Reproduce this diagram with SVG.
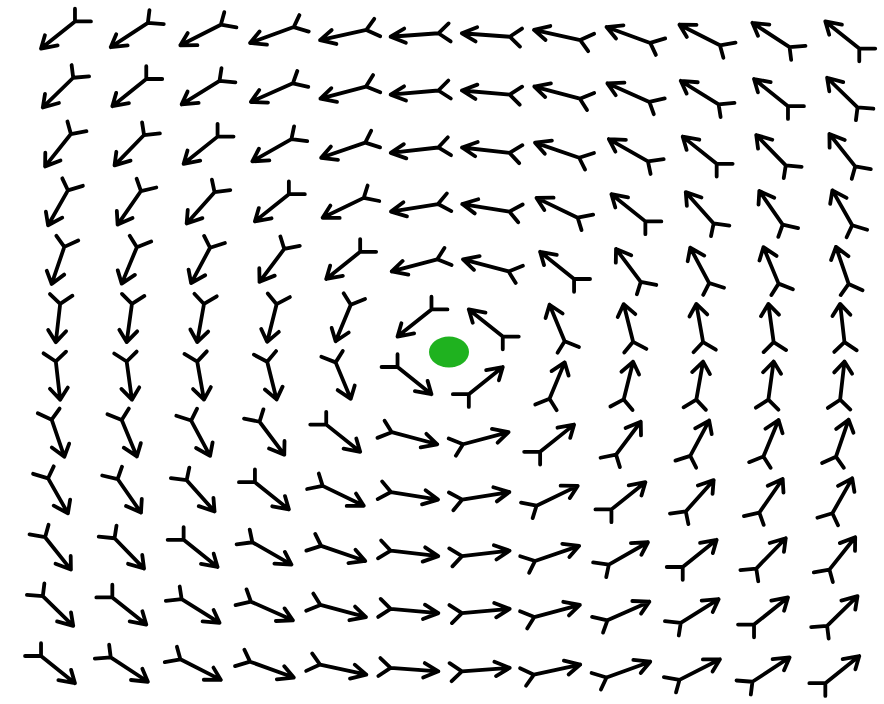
<svg xmlns="http://www.w3.org/2000/svg" xmlns:xlink="http://www.w3.org/1999/xlink" width="884" height="704" viewBox="0 0 884 704">
<style>
.a{fill:none;stroke:#000;stroke-width:3.8;stroke-linecap:round;stroke-linejoin:round;vector-effect:non-scaling-stroke}
</style>
<defs>
<path id="a" class="a" d="M-24,0H24M9.5,-9L24,0L9.5,9M-35.3,-11.3L-24,0L-35.3,11.3"/>
</defs>
<rect width="884" height="704" fill="#fff"/>
<g id="field" transform="scale(1,0.8)">
<g id="row0" transform="translate(0 43.75)">
<use href="#a" transform="translate(58 0) rotate(135)"/>
<use href="#a" transform="translate(129.3 0) rotate(140.7)"/>
<use href="#a" transform="translate(200.6 0) rotate(147.5)"/>
<use href="#a" transform="translate(271.9 0) rotate(155.6)"/>
<use href="#a" transform="translate(343.2 0) rotate(164.7)"/>
<use href="#a" transform="translate(414.5 0) rotate(174.8)"/>
<use href="#a" transform="translate(485.8 0) rotate(-174.8)"/>
<use href="#a" transform="translate(557.1 0) rotate(-164.7)"/>
<use href="#a" transform="translate(628.4 0) rotate(-155.6)"/>
<use href="#a" transform="translate(699.7 0) rotate(-147.5)"/>
<use href="#a" transform="translate(771 0) rotate(-140.7)"/>
<use href="#a" transform="translate(842.3 0) rotate(-135)"/>
</g>
<g id="row1" transform="translate(0 115.75)">
<use href="#a" transform="translate(58 0) rotate(129.3)"/>
<use href="#a" transform="translate(129.3 0) rotate(135)"/>
<use href="#a" transform="translate(200.6 0) rotate(142.1)"/>
<use href="#a" transform="translate(271.9 0) rotate(151)"/>
<use href="#a" transform="translate(343.2 0) rotate(161.6)"/>
<use href="#a" transform="translate(414.5 0) rotate(173.7)"/>
<use href="#a" transform="translate(485.8 0) rotate(-173.7)"/>
<use href="#a" transform="translate(557.1 0) rotate(-161.6)"/>
<use href="#a" transform="translate(628.4 0) rotate(-151)"/>
<use href="#a" transform="translate(699.7 0) rotate(-142.1)"/>
<use href="#a" transform="translate(771 0) rotate(-135)"/>
<use href="#a" transform="translate(842.3 0) rotate(-129.3)"/>
</g>
<g id="row2" transform="translate(0 187.75)">
<use href="#a" transform="translate(58 0) rotate(122.5)"/>
<use href="#a" transform="translate(129.3 0) rotate(127.9)"/>
<use href="#a" transform="translate(200.6 0) rotate(135)"/>
<use href="#a" transform="translate(271.9 0) rotate(144.5)"/>
<use href="#a" transform="translate(343.2 0) rotate(156.8)"/>
<use href="#a" transform="translate(414.5 0) rotate(171.9)"/>
<use href="#a" transform="translate(485.8 0) rotate(-171.9)"/>
<use href="#a" transform="translate(557.1 0) rotate(-156.8)"/>
<use href="#a" transform="translate(628.4 0) rotate(-144.5)"/>
<use href="#a" transform="translate(699.7 0) rotate(-135)"/>
<use href="#a" transform="translate(771 0) rotate(-127.9)"/>
<use href="#a" transform="translate(842.3 0) rotate(-122.5)"/>
</g>
<g id="row3" transform="translate(0 259.75)">
<use href="#a" transform="translate(58 0) rotate(114.4)"/>
<use href="#a" transform="translate(129.3 0) rotate(119.1)"/>
<use href="#a" transform="translate(200.6 0) rotate(125.5)"/>
<use href="#a" transform="translate(271.9 0) rotate(135)"/>
<use href="#a" transform="translate(343.2 0) rotate(149)"/>
<use href="#a" transform="translate(414.5 0) rotate(168.7)"/>
<use href="#a" transform="translate(485.8 0) rotate(-168.7)"/>
<use href="#a" transform="translate(557.1 0) rotate(-149)"/>
<use href="#a" transform="translate(628.4 0) rotate(-135)"/>
<use href="#a" transform="translate(699.7 0) rotate(-125.5)"/>
<use href="#a" transform="translate(771 0) rotate(-119.1)"/>
<use href="#a" transform="translate(842.3 0) rotate(-114.4)"/>
</g>
<g id="row4" transform="translate(0 331.75)">
<use href="#a" transform="translate(58 0) rotate(105.3)"/>
<use href="#a" transform="translate(129.3 0) rotate(108.4)"/>
<use href="#a" transform="translate(200.6 0) rotate(113.2)"/>
<use href="#a" transform="translate(271.9 0) rotate(121)"/>
<use href="#a" transform="translate(343.2 0) rotate(135)"/>
<use href="#a" transform="translate(414.5 0) rotate(161.6)"/>
<use href="#a" transform="translate(485.8 0) rotate(-161.6)"/>
<use href="#a" transform="translate(557.1 0) rotate(-135)"/>
<use href="#a" transform="translate(628.4 0) rotate(-121)"/>
<use href="#a" transform="translate(699.7 0) rotate(-113.2)"/>
<use href="#a" transform="translate(771 0) rotate(-108.4)"/>
<use href="#a" transform="translate(842.3 0) rotate(-105.3)"/>
</g>
<g id="row5" transform="translate(0 403.75)">
<use href="#a" transform="translate(58 0) rotate(95.2)"/>
<use href="#a" transform="translate(129.3 0) rotate(96.3)"/>
<use href="#a" transform="translate(200.6 0) rotate(98.1)"/>
<use href="#a" transform="translate(271.9 0) rotate(101.3)"/>
<use href="#a" transform="translate(343.2 0) rotate(108.4)"/>
<use href="#a" transform="translate(414.5 0) rotate(135)"/>
<use href="#a" transform="translate(485.8 0) rotate(-135)"/>
<use href="#a" transform="translate(557.1 0) rotate(-108.4)"/>
<use href="#a" transform="translate(628.4 0) rotate(-101.3)"/>
<use href="#a" transform="translate(699.7 0) rotate(-98.1)"/>
<use href="#a" transform="translate(771 0) rotate(-96.3)"/>
<use href="#a" transform="translate(842.3 0) rotate(-95.2)"/>
</g>
<g id="row6" transform="translate(0 475.75)">
<use href="#a" transform="translate(58 0) rotate(84.8)"/>
<use href="#a" transform="translate(129.3 0) rotate(83.7)"/>
<use href="#a" transform="translate(200.6 0) rotate(81.9)"/>
<use href="#a" transform="translate(271.9 0) rotate(78.7)"/>
<use href="#a" transform="translate(343.2 0) rotate(71.6)"/>
<use href="#a" transform="translate(414.5 0) rotate(45)"/>
<use href="#a" transform="translate(485.8 0) rotate(-45)"/>
<use href="#a" transform="translate(557.1 0) rotate(-71.6)"/>
<use href="#a" transform="translate(628.4 0) rotate(-78.7)"/>
<use href="#a" transform="translate(699.7 0) rotate(-81.9)"/>
<use href="#a" transform="translate(771 0) rotate(-83.7)"/>
<use href="#a" transform="translate(842.3 0) rotate(-84.8)"/>
</g>
<g id="row7" transform="translate(0 547.75)">
<use href="#a" transform="translate(58 0) rotate(74.7)"/>
<use href="#a" transform="translate(129.3 0) rotate(71.6)"/>
<use href="#a" transform="translate(200.6 0) rotate(66.8)"/>
<use href="#a" transform="translate(271.9 0) rotate(59)"/>
<use href="#a" transform="translate(343.2 0) rotate(45)"/>
<use href="#a" transform="translate(414.5 0) rotate(18.4)"/>
<use href="#a" transform="translate(485.8 0) rotate(-18.4)"/>
<use href="#a" transform="translate(557.1 0) rotate(-45)"/>
<use href="#a" transform="translate(628.4 0) rotate(-59)"/>
<use href="#a" transform="translate(699.7 0) rotate(-66.8)"/>
<use href="#a" transform="translate(771 0) rotate(-71.6)"/>
<use href="#a" transform="translate(842.3 0) rotate(-74.7)"/>
</g>
<g id="row8" transform="translate(0 619.75)">
<use href="#a" transform="translate(58 0) rotate(65.6)"/>
<use href="#a" transform="translate(129.3 0) rotate(60.9)"/>
<use href="#a" transform="translate(200.6 0) rotate(54.5)"/>
<use href="#a" transform="translate(271.9 0) rotate(45)"/>
<use href="#a" transform="translate(343.2 0) rotate(31)"/>
<use href="#a" transform="translate(414.5 0) rotate(11.3)"/>
<use href="#a" transform="translate(485.8 0) rotate(-11.3)"/>
<use href="#a" transform="translate(557.1 0) rotate(-31)"/>
<use href="#a" transform="translate(628.4 0) rotate(-45)"/>
<use href="#a" transform="translate(699.7 0) rotate(-54.5)"/>
<use href="#a" transform="translate(771 0) rotate(-60.9)"/>
<use href="#a" transform="translate(842.3 0) rotate(-65.6)"/>
</g>
<g id="row9" transform="translate(0 691.75)">
<use href="#a" transform="translate(58 0) rotate(57.5)"/>
<use href="#a" transform="translate(129.3 0) rotate(52.1)"/>
<use href="#a" transform="translate(200.6 0) rotate(45)"/>
<use href="#a" transform="translate(271.9 0) rotate(35.5)"/>
<use href="#a" transform="translate(343.2 0) rotate(23.2)"/>
<use href="#a" transform="translate(414.5 0) rotate(8.1)"/>
<use href="#a" transform="translate(485.8 0) rotate(-8.1)"/>
<use href="#a" transform="translate(557.1 0) rotate(-23.2)"/>
<use href="#a" transform="translate(628.4 0) rotate(-35.5)"/>
<use href="#a" transform="translate(699.7 0) rotate(-45)"/>
<use href="#a" transform="translate(771 0) rotate(-52.1)"/>
<use href="#a" transform="translate(842.3 0) rotate(-57.5)"/>
</g>
<g id="row10" transform="translate(0 763.75)">
<use href="#a" transform="translate(58 0) rotate(50.7)"/>
<use href="#a" transform="translate(129.3 0) rotate(45)"/>
<use href="#a" transform="translate(200.6 0) rotate(37.9)"/>
<use href="#a" transform="translate(271.9 0) rotate(29.1)"/>
<use href="#a" transform="translate(343.2 0) rotate(18.4)"/>
<use href="#a" transform="translate(414.5 0) rotate(6.3)"/>
<use href="#a" transform="translate(485.8 0) rotate(-6.3)"/>
<use href="#a" transform="translate(557.1 0) rotate(-18.4)"/>
<use href="#a" transform="translate(628.4 0) rotate(-29.1)"/>
<use href="#a" transform="translate(699.7 0) rotate(-37.9)"/>
<use href="#a" transform="translate(771 0) rotate(-45)"/>
<use href="#a" transform="translate(842.3 0) rotate(-50.7)"/>
</g>
<g id="row11" transform="translate(0 837)">
<use href="#a" transform="translate(58 0) rotate(45)"/>
<use href="#a" transform="translate(129.3 0) rotate(39.3)"/>
<use href="#a" transform="translate(200.6 0) rotate(32.5)"/>
<use href="#a" transform="translate(271.9 0) rotate(24.4)"/>
<use href="#a" transform="translate(343.2 0) rotate(15.3)"/>
<use href="#a" transform="translate(414.5 0) rotate(5.2)"/>
<use href="#a" transform="translate(485.8 0) rotate(-5.2)"/>
<use href="#a" transform="translate(557.1 0) rotate(-15.3)"/>
<use href="#a" transform="translate(628.4 0) rotate(-24.4)"/>
<use href="#a" transform="translate(699.7 0) rotate(-32.5)"/>
<use href="#a" transform="translate(771 0) rotate(-39.3)"/>
<use href="#a" transform="translate(842.3 0) rotate(-45)"/>
</g>
</g>
<g id="center">
<ellipse cx="449" cy="352" rx="20" ry="15.5" fill="#1fb21f"/>
</g>
</svg>
